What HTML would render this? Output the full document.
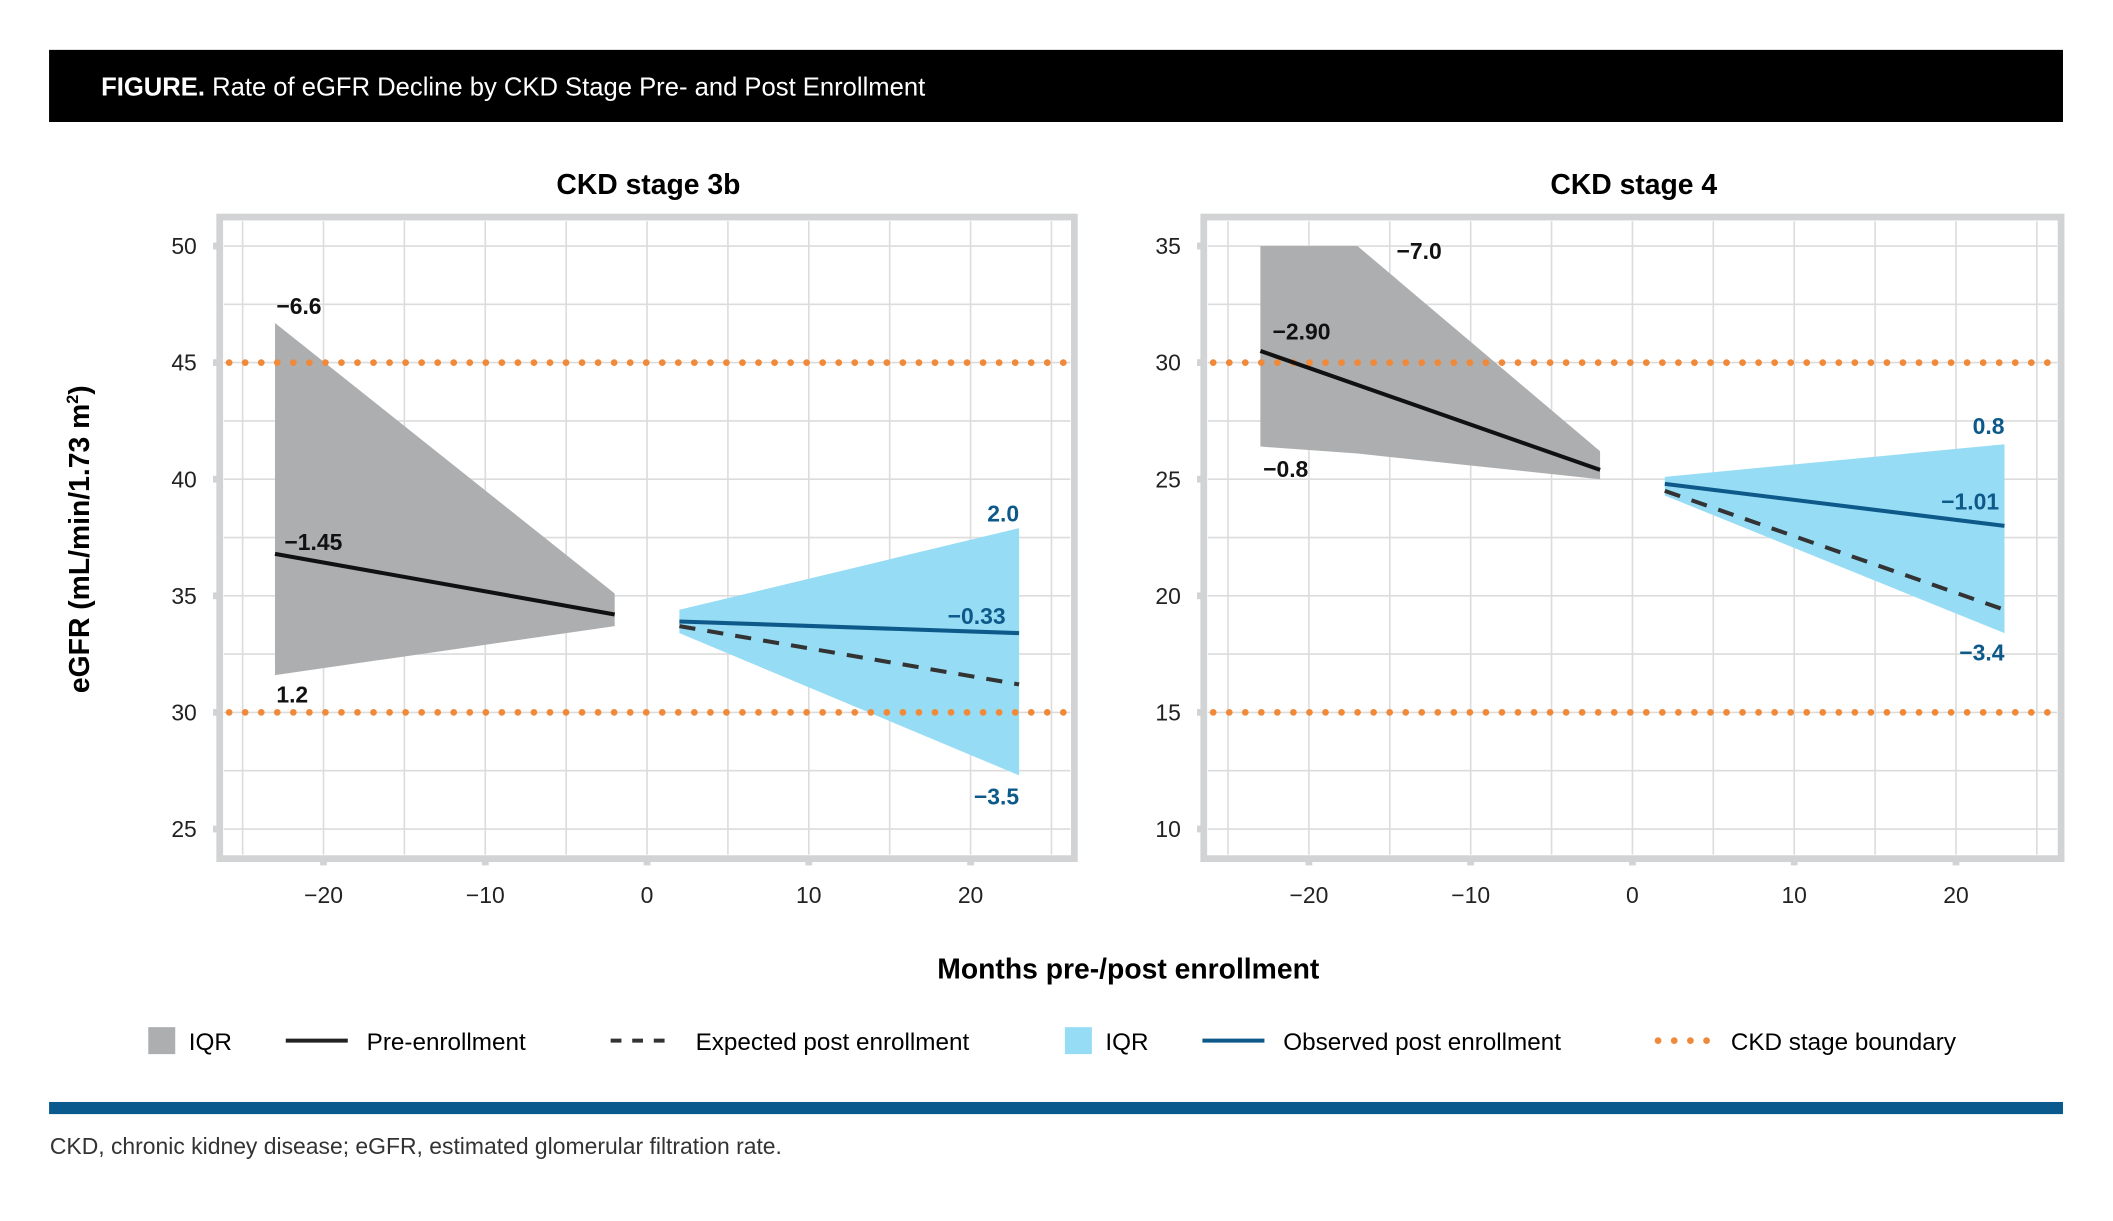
<!DOCTYPE html>
<html><head><meta charset="utf-8">
<style>
html,body{margin:0;padding:0;background:#fff;}
svg{display:block;font-family:"Liberation Sans Narrow","Liberation Sans",sans-serif;}
</style></head>
<body>
<svg id="fig" width="2113" height="1221" viewBox="0 0 1567.5 905.8" preserveAspectRatio="none" xmlns="http://www.w3.org/2000/svg">
<rect x="36.4" y="37" width="1494" height="53.5" fill="#000"/>
<text x="75" y="71" font-size="19" fill="#fff"><tspan font-weight="bold" font-family="Liberation Sans">FIGURE.</tspan> Rate of eGFR Decline by CKD Stage Pre- and Post Enrollment</text>
<text x="481" y="144" font-size="21" font-weight="bold" text-anchor="middle" font-family="Liberation Sans">CKD stage 3b</text>
<text x="1212" y="144" font-size="21" font-weight="bold" text-anchor="middle" font-family="Liberation Sans">CKD stage 4</text>
<text transform="translate(66,400) rotate(-90)" font-size="21" font-weight="bold" text-anchor="middle" font-family="Liberation Sans">eGFR (mL/min/1.73 m<tspan font-size="12" dy="-8">2</tspan><tspan dy="8">)</tspan></text>
<text x="837" y="726" font-size="21" font-weight="bold" text-anchor="middle" font-family="Liberation Sans">Months pre-/post enrollment</text>
<g id="p1"></g>
<g id="p2"></g>
<g font-size="18">
 <rect x="110" y="762" width="20" height="20" fill="#adaeb0"/>
 <text x="140" y="779">IQR</text>
 <line x1="212" y1="772" x2="258" y2="772" stroke="#222" stroke-width="3"/>
 <text x="272" y="779">Pre-enrollment</text>
 <line x1="453" y1="772" x2="500" y2="772" stroke="#333" stroke-width="3" stroke-dasharray="8,8"/>
 <text x="516" y="779">Expected post enrollment</text>
 <rect x="790" y="762" width="20" height="20" fill="#97dcf5"/>
 <text x="820" y="779">IQR</text>
 <line x1="892" y1="772" x2="938" y2="772" stroke="#0d5a8a" stroke-width="3"/>
 <text x="952" y="779">Observed post enrollment</text>
 <line x1="1230" y1="772" x2="1272" y2="772" stroke="#f08a3a" stroke-width="5" stroke-linecap="round" stroke-dasharray="0,12"/>
 <text x="1284" y="779">CKD stage boundary</text>
</g>
<rect x="36.4" y="817.5" width="1494" height="9" fill="#0b5a8e"/>
<text x="37" y="856" font-size="17" fill="#333">CKD, chronic kidney disease; eGFR, estimated glomerular filtration rate.</text>
</svg>
<script>
// x ticks shared
const xTicks=[-20,-10,0,10,20];
// Panel 3b data
const p1YTicks=[25,30,35,40,45,50];
const p1Bounds=[45,30];
const p1BandX=[-23,-2];
const p1LineX=[-23,-2];
const p1PreLine=[36.8,34.2];
const p1PreTop=[46.7,35.1];
const p1PreBot=[31.6,33.7];
const p1PostX=[2,23];
const p1ObsLine=[33.9,33.4];
const p1ExpLine=[33.7,31.2];
const p1PostTop=[34.4,37.9];
const p1PostBot=[33.4,27.3];
const p1Labels=["−6.6","−1.45","1.2","2.0","−0.33","−3.5"];
// Panel 4 data
const p2YTicks=[10,15,20,25,30,35];
const p2Bounds=[30,15];
const p2BandX=[-23,-17,-2];
const p2LineX=[-23,-2];
const p2PreLine=[30.5,25.4];
const p2PreTop=[35.0,35.0,26.2];
const p2PreBot=[26.4,26.1,25.0];
const p2PostX=[2,23];
const p2ObsLine=[24.8,23.0];
const p2ExpLine=[24.5,19.4];
const p2PostTop=[25.1,26.5];
const p2PostBot=[24.3,18.4];
const p2Labels=["−7.0","−2.90","−0.8","0.8","−1.01","−3.4"];

const NS="http://www.w3.org/2000/svg";
function mk(parent,tag,attrs){const e=document.createElementNS(NS,tag);for(const k in attrs)e.setAttribute(k,attrs[k]);parent.appendChild(e);return e;}

function drawPanel(g,o){
  const X=v=>o.x0+(v)*12;
  const Y=v=>o.yBase-(v-o.yTicks[0])*17.3;
  const L=o.left,R=o.right,T=161,B=637;
  const bg=mk(g,'rect',{x:L,y:T,width:R-L,height:B-T,fill:'#fff',stroke:'#d1d3d4','stroke-width':5});
  
  
  for(let v=-25;v<=25;v+=5){const gl=mk(g,'line',{x1:X(v),x2:X(v),y1:T+3,y2:B-3,stroke:'#dcdcdc','stroke-width':1.2});
    }
  for(let v=o.yTicks[0]-2.5;v<=o.yTicks[o.yTicks.length-1]+2.5;v+=2.5){const y=Y(v);if(y<T+2||y>B-2)continue;
    const gl=mk(g,'line',{x1:L+3,x2:R-3,y1:y,y2:y,stroke:'#dcdcdc','stroke-width':1.2});
    }
  o.yTicks.forEach(v=>{
    const tm=mk(g,'line',{x1:L-5,x2:L,y1:Y(v),y2:Y(v),stroke:'#d1d3d4','stroke-width':5});
    
    const t=mk(g,'text',{x:L-17,y:Y(v)+6,'font-size':17,'text-anchor':'end',fill:'#222'});t.textContent=v;
    
  });
  xTicks.forEach(v=>{
    const tm=mk(g,'line',{x1:X(v),x2:X(v),y1:B,y2:B+5,stroke:'#d1d3d4','stroke-width':5});
    
    const t=mk(g,'text',{x:X(v),y:670,'font-size':17,'text-anchor':'middle',fill:'#222'});t.textContent=(v<0?'−'+(-v):v);
    
  });
  const band=(xs,top,bot,fill,name)=>{
    let pts=xs.map((x,i)=>X(x)+','+Y(top[i]));
    for(let i=xs.length-1;i>=0;i--)pts.push(X(xs[i])+','+Y(bot[i]));
    const p=mk(g,'polygon',{points:pts.join(' '),fill:fill});
    
  };
  band(o.bandX,o.preTop,o.preBot,'#adaeb0','iqr-pre-band');
  band(o.postX,o.postTop,o.postBot,'#97dcf5','iqr-post-band');
  const line=(xs,ys,attrs,name)=>{
    const p=mk(g,'polyline',Object.assign({points:xs.map((x,i)=>X(x)+','+Y(ys[i])).join(' '),fill:'none'},attrs));
    
  };
  o.bounds.forEach(b=>{
    const p=mk(g,'line',{x1:L+7,x2:R,y1:Y(b),y2:Y(b),stroke:'#f08a3a','stroke-width':5,'stroke-linecap':'round','stroke-dasharray':'0,11.9'});
    
  });
  line(o.lineX,o.preLine,{stroke:'#111','stroke-width':3},'pre-enrollment-line');
  line(o.postX,o.expLine,{stroke:'#333','stroke-width':3,'stroke-dasharray':'12,9'},'expected-post-line');
  line(o.postX,o.obsLine,{stroke:'#0d5a8a','stroke-width':3},'observed-post-line');
  o.labels.forEach((s,i)=>{
    const pos=o.labelPos[i];
    const t=mk(g,'text',{x:pos[0],y:pos[1],'font-size':17,'font-weight':'bold','text-anchor':pos[2],fill:i<3?'#111':'#0d5a8a','font-family':'Liberation Sans'});
    t.textContent=s;
    
  });
}
drawPanel(document.getElementById('p1'),{x0:480,yBase:615,left:163,right:797,yTicks:p1YTicks,bounds:p1Bounds,
  bandX:p1BandX,lineX:p1LineX,preLine:p1PreLine,preTop:p1PreTop,preBot:p1PreBot,postX:p1PostX,obsLine:p1ObsLine,expLine:p1ExpLine,postTop:p1PostTop,postBot:p1PostBot,
  labels:p1Labels,labelPos:[[205,233,'start'],[211,408,'start'],[205,521,'start'],[756,387,'end'],[746,463,'end'],[756,597,'end']]});
drawPanel(document.getElementById('p2'),{x0:1211,yBase:615,left:893,right:1529,yTicks:p2YTicks,bounds:p2Bounds,
  bandX:p2BandX,lineX:p2LineX,preLine:p2PreLine,preTop:p2PreTop,preBot:p2PreBot,postX:p2PostX,obsLine:p2ObsLine,expLine:p2ExpLine,postTop:p2PostTop,postBot:p2PostBot,
  labels:p2Labels,labelPos:[[1036,192,'start'],[944,252,'start'],[937,354,'start'],[1487,322,'end'],[1483,378,'end'],[1487,490,'end']]});
</script>
</body></html>
